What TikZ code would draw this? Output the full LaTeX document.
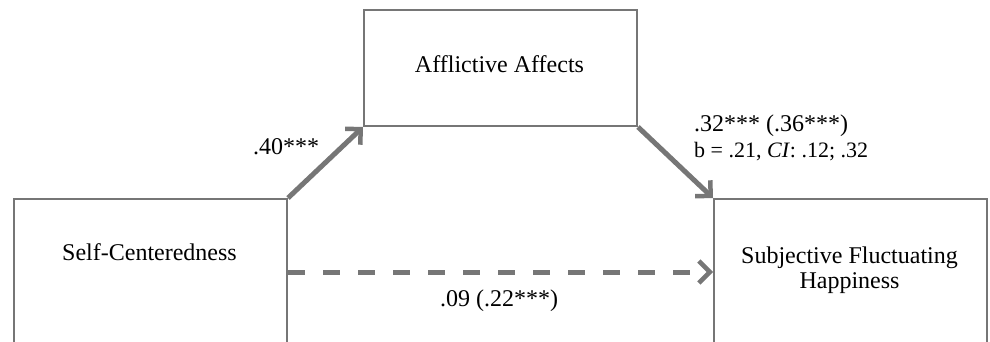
\documentclass[tikz,border=0pt]{standalone}
\usepackage{fontspec}
\setmainfont{Liberation Serif}
\usetikzlibrary{arrows.meta,positioning}
\definecolor{pathgray}{RGB}{118,118,118}
\tikzset{
  varbox/.style={draw=pathgray, line width=2pt, minimum width=273pt, inner sep=0pt},
  pathtext/.style={font=\fontsize{24}{25}\selectfont, inner sep=0pt},
  smalltext/.style={font=\fontsize{22}{24}\selectfont, inner sep=0pt},
  effect/.style={draw=pathgray, line width=5pt,
    -{Straight Barb[length=11pt,width=22pt,line width=4.5pt]}}
}
\begin{document}
\begin{tikzpicture}[x=1pt,y=-1pt]
  \useasboundingbox (0,0) rectangle (990,341);
  \clip (0,0) rectangle (990,341);

  % Drawing box Afflictive Affects
  \node [varbox, minimum height=116pt, anchor=north west] (aff) at (363,9) {};%

  % Drawing box Self-Centeredness
  \node [varbox, minimum height=300pt, anchor=north west] (self) at (13,198) {};%

  % Drawing box Subjective Fluctuating Happiness
  \node [varbox, minimum height=300pt, anchor=north west] (subj) at (713,198) {};%

  % Marking box texts
  \node [pathtext, anchor=base] (afftext) at (499.5,72) {Afflictive Affects};%
  \node [pathtext, anchor=base] (selftext) at (149.5,260) {Self-Centeredness};%
  \node [pathtext, align=center] (subjtext) at (849.5,270) {Subjective Fluctuating\\Happiness};%

  % Drawing path a
  \draw [effect] (self.north east) -- (aff.south west);%

  % Drawing path b
  \draw [effect] (aff.south east) -- (subj.north west);%

  % Drawing path c
  \draw [effect, dash pattern=on 17pt off 18pt]
    ([yshift=-74pt]self.north east) -- ([yshift=-74pt]subj.north west);%

  % Marking coefficient a
  \node [pathtext, anchor=base west] (acoef) at (253,154) {.40***};%

  % Marking coefficient b
  \node [pathtext, anchor=base west] (bcoef) at (694,131) {.32*** (.36***)};%
  \node [smalltext, anchor=base west] (bci) at (694,157) {b = .21, \textit{CI}: .12; .32};%

  % Marking coefficient c
  \node [pathtext, anchor=base] (ccoef) at (499,306) {.09 (.22***)};%
\end{tikzpicture}
\end{document}
